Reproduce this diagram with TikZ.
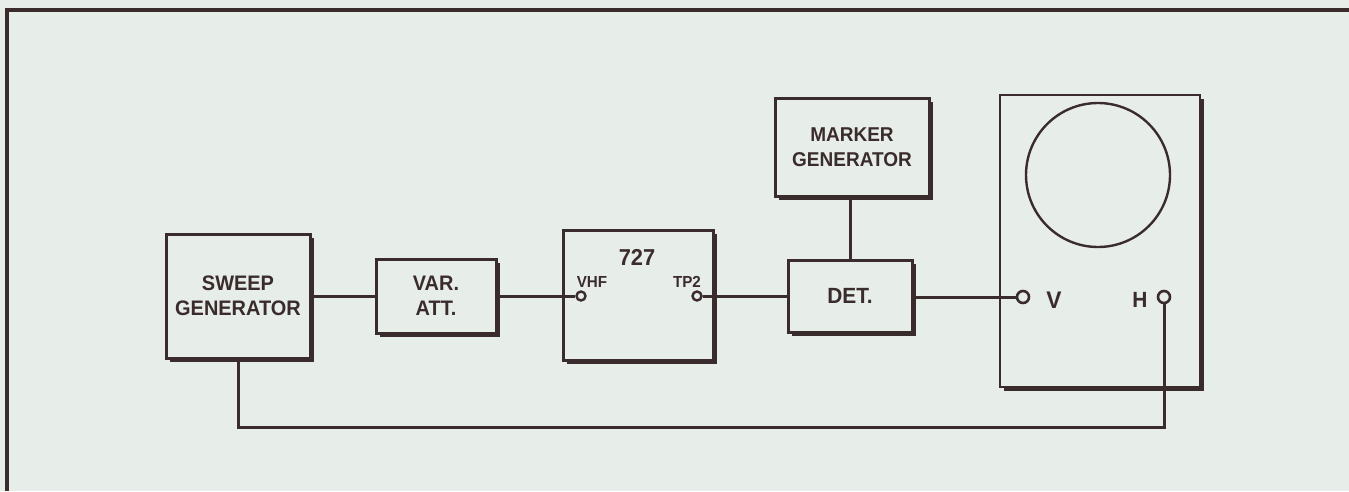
\documentclass[tikz,border=0pt]{standalone}
\usepackage{fontspec}
\usetikzlibrary{shadows}
\setmainfont{Liberation Sans}
\newfontfamily\lbl[FakeStretch=0.95]{Liberation Sans}
\begin{document}
\begin{tikzpicture}[x=1pt,y=-1pt,
  font=\lbl\bfseries,
  blk/.style={rectangle,draw=inkc,line width=3pt,fill=bgc,inner sep=0pt,align=center,text=inkc,
     drop shadow={shadow xshift=3.5pt,shadow yshift=-3.5pt,fill=inkc,opacity=1}},
  term/.style={circle,draw=inkc,line width=2.6pt,fill=bgc,minimum size=12pt,inner sep=0pt},
  sterm/.style={circle,draw=inkc,line width=2.4pt,fill=bgc,minimum size=9pt,inner sep=0pt},
  txt/.style={text=inkc,inner sep=0pt},
  wire/.style={draw=inkc,line width=3pt}]
\definecolor{bgc}{HTML}{E7EDE9}
\definecolor{inkc}{HTML}{3A2C2C}
\fill[bgc] (0,0) rectangle (1349,491);
\useasboundingbox (0,0) rectangle (1349,491);
% frame
\draw[draw=inkc,line width=4pt] (7,491) -- (7,10) -- (1349,10);
% blocks
\node[blk,minimum width=144pt,minimum height=124pt,font=\lbl\bfseries\fontsize{21}{25}\selectfont] (sweep) at (238,296) {SWEEP\\GENERATOR};
\node[blk,minimum width=120pt,minimum height=74pt,font=\lbl\bfseries\fontsize{21}{25}\selectfont] (att) at (436,296) {VAR.\\ATT.};
\node[blk,minimum width=150pt,minimum height=130pt] (dev) at (638,295) {};
\node[blk,minimum width=124pt,minimum height=72pt,font=\lbl\bfseries\fontsize{22}{24}\selectfont] (det) at (850,296) {DET.};
\node[blk,minimum width=154pt,minimum height=98pt,font=\lbl\bfseries\fontsize{20}{25}\selectfont] (marker) at (852,147) {MARKER\\GENERATOR};
\node[blk,line width=2.4pt,minimum width=200pt,minimum height=292pt] (scope) at (1100,241) {};
\node[circle,draw=inkc,line width=2.4pt,minimum size=144pt,inner sep=0pt] (crt) at (1098,175) {};
% labels in 727
\node[txt,font=\lbl\bfseries\fontsize{23}{24}\selectfont] (n727) at (637,257) {727};
\node[txt,font=\lbl\bfseries\fontsize{16}{18}\selectfont] (lvhf) at (592,282) {VHF};
\node[txt,font=\lbl\bfseries\fontsize{16}{18}\selectfont] (ltp) at (687,282) {TP2};
% terminals
\node[sterm] (vhf) at (581,296) {};
\node[sterm] (tp2) at (697,296) {};
\node[term] (v) at (1023,297) {};
\node[term] (h) at (1164,297) {};
\node[txt,font=\lbl\bfseries\fontsize{24}{26}\selectfont] (lv) at (1054,300) {V};
\node[txt,font=\lbl\bfseries\fontsize{22}{26}\selectfont] (lh) at (1140,300) {H};
% wires
\coordinate (loop) at (1164,427);
\draw[wire] (sweep.east) -- (att.west);
\draw[wire] (att.east) -- (vhf.west);
\draw[wire] (tp2.east) -- (det.west);
\draw[wire] (det.east |- v.west) -- (v.west);
\draw[wire] (marker.south -| det.north) -- (det.north);
\draw[wire] (h.south) -- (loop) -| (sweep.south);
\end{tikzpicture}
\end{document}
